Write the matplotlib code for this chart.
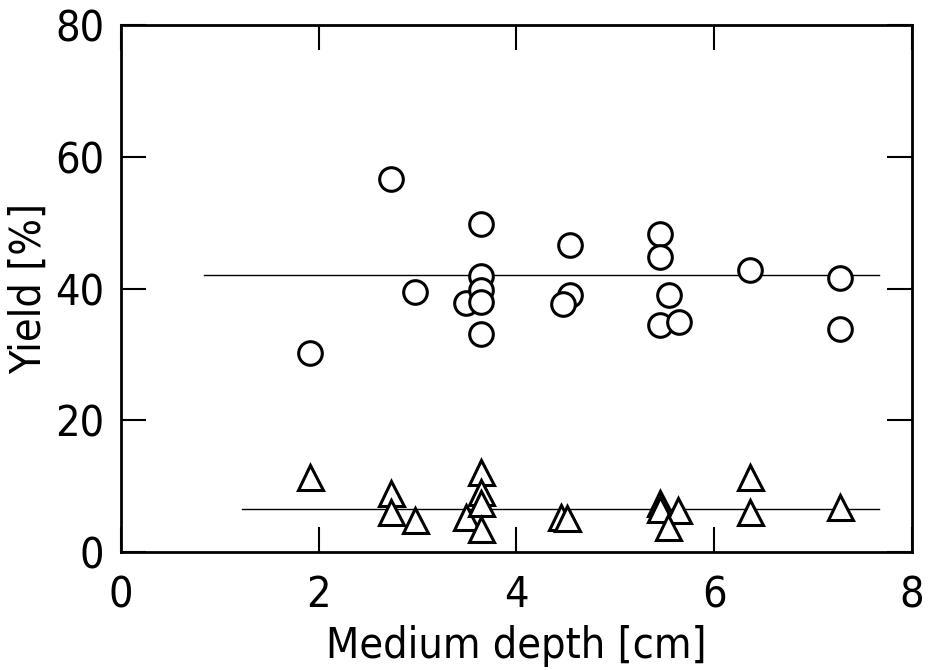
import numpy as np
import matplotlib.pyplot as plt

plt.rcParams['font.family'] = ['DejaVu Sans']
plt.rcParams['font.stretch'] = 'condensed'

# circles: total yield
circ_x = [1.91, 2.73, 2.97, 3.49, 3.64, 3.64, 3.64, 3.64, 3.64,
          4.54, 4.54, 4.47, 5.45, 5.45, 5.54, 5.45, 5.64, 6.36, 7.27, 7.27]
circ_y = [30.2, 56.6, 39.5, 37.8, 49.8, 41.9, 39.8, 37.9, 33.1,
          46.6, 39.0, 37.6, 48.3, 44.8, 39.0, 34.4, 34.9, 42.8, 41.6, 33.8]

# triangles
tri_x = [1.91, 2.73, 2.73, 2.97, 3.49, 3.64, 3.64, 3.64, 3.64,
         4.45, 4.51, 5.45, 5.45, 5.63, 5.53, 6.36, 6.36, 7.27]
tri_y = [11.4, 9.0, 6.1, 4.9, 5.3, 12.1, 9.1, 7.4, 3.5,
         5.4, 5.2, 7.4, 6.5, 6.4, 3.8, 11.4, 6.1, 6.8]

# mean lines
line1_x = [0.84, 7.67]
line1_y = [42.0, 42.0]
line2_x = [1.22, 7.67]
line2_y = [6.5, 6.5]

fig = plt.figure(figsize=(9.35, 6.7), dpi=100)
ax = fig.add_axes([0.1294, 0.176, 0.846, 0.7867])

ax.plot(line1_x, line1_y, '-', c='k', lw=1.0, zorder=1)
ax.plot(line2_x, line2_y, '-', c='k', lw=1.0, zorder=1)
ax.plot(circ_x, circ_y, 'o', ms=17, mfc='white', mec='k', mew=2.2, zorder=2)
ax.plot(tri_x, tri_y, '^', ms=18, mfc='white', mec='k', mew=2.2, zorder=2)

ax.set_xlim([0, 8])
ax.set_ylim([0, 80])
ax.set_xticks([0, 2, 4, 6, 8])
ax.set_yticks([0, 20, 40, 60, 80])
ax.tick_params(direction='in', length=18, width=1.5, top=True, right=True,
               labelsize=31)
ax.tick_params(axis='x', pad=16)
ax.tick_params(axis='y', pad=12)
for s in ax.spines.values():
    s.set_linewidth(2)

ax.set_xlabel('Medium depth [cm]', fontsize=31, labelpad=6)
ax.set_ylabel('Yield [%]', fontsize=31)
ax.yaxis.set_label_coords(-0.09, 0.5)

fig.savefig('out.png', dpi=100)
